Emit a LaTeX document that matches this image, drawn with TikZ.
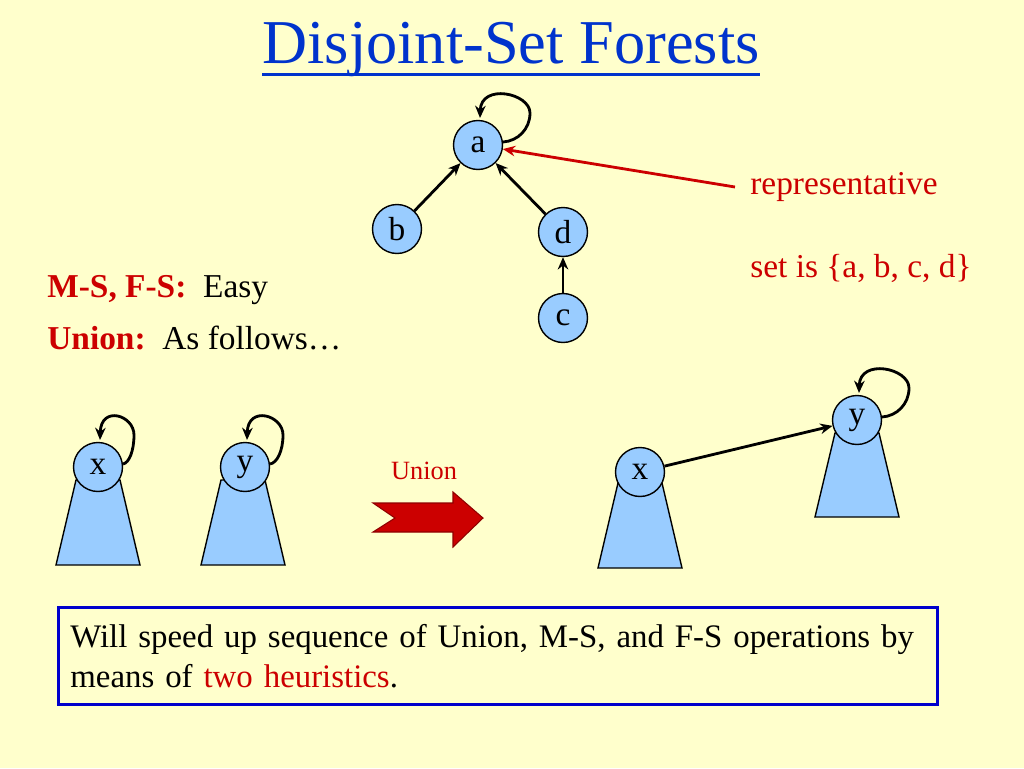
\documentclass[tikz,border=0pt]{standalone}
\usepackage{fontspec}
\setmainfont{Liberation Serif}
\usetikzlibrary{arrows.meta}
\definecolor{slidebg}{HTML}{FFFFCC}
\definecolor{nodeblue}{HTML}{99CCFF}
\definecolor{textred}{HTML}{CC0000}
\definecolor{titleblue}{HTML}{0033CC}
\definecolor{boxblue}{HTML}{0000CC}
\tikzset{
  elem/.style={circle, draw, fill=nodeblue, line width=0.8pt, minimum size=0.98cm, inner sep=0pt,
    font=\fontsize{19}{21}\selectfont},
  arr/.style={line width=1.6pt, -{Stealth[length=7pt,width=6pt]}},
  body/.style={inner sep=0pt, font=\fontsize{19}{21}\selectfont},
}
\begin{document}
\begin{tikzpicture}[x=0.02cm, y=-0.02cm]
    \fill[slidebg] (0,0) rectangle (1024,768);
    \useasboundingbox (0,0) rectangle (1024,768);
    % title
    \node (title) [anchor=base, inner sep=0pt, text=titleblue, font=\fontsize{35.5}{40}\selectfont] at (511,63) {Disjoint-Set Forests};
    \draw[titleblue, line width=1.7pt] ([yshift=-0.23cm]title.base west) -- ([yshift=-0.23cm]title.base east);
    % the tree of {a, b, c, d}
    \node (a) [elem] at (478,145) {a};
    \node (b) [elem] at (397,229) {b};
    \node (d) [elem] at (563,232) {d};
    \node (c) [elem] at (563,318) {c};
    \draw[arr] (b) -- (a);
    \draw[arr] (d) -- (a);
    \draw[arr] (c) -- (d);
    \node (rep) [body, anchor=west, text=textred] at (750,187) {representative};
    \node (setis) [body, anchor=west, text=textred] at (750,268) {set is \{a, b, c, d\}};
    \draw[textred, line width=1.6pt, -{Stealth[length=7pt,width=6pt]}] ([xshift=-0.3cm]rep.west) -- (a);
    % text
    \node (ms) [body, anchor=base west] at (47,297) {\textcolor{textred}{\textbf{M-S, F-S:}}\ \ Easy};
    \node (un) [body, anchor=base west] at (47,349) {\textcolor{textred}{\textbf{Union:}}\ \ As follows\dots};
    % subtrees
    \foreach \cx/\ty/\by in {98/480/565, 243/480/565, 640/483/568, 857/433/517}
        \filldraw[fill=nodeblue, line width=0.8pt] ({\cx-22},\ty) -- ({\cx+22},\ty) -- ({\cx+42},\by) -- ({\cx-42},\by) -- cycle;
    \node (x1) [elem] at (98,467) {x};
    \node (y1) [elem] at (245,467) {y};
    \node (x2) [elem] at (640,472) {x};
    \node (y2) [elem] at (857,420) {y};
    \draw[arr] (x2) -- (y2);
    % self loops
    \foreach \n/\w/\s in {a/52/40, y2/52/40, x1/36/31, y1/38/32}
        \draw[arr] ([shift={(25,-3)}]\n.center) .. controls ([shift={(\s,-4)}]\n.center) and ([shift={(\w,-16)}]\n.center) .. ([shift={(\w,-32)}]\n.center)
            .. controls ([shift={(\w,-52)}]\n.center) and ([shift={(3,-62)}]\n.center) .. ([shift={(2,-27)}]\n.center);
    % union arrow
    \node (unionlabel) [inner sep=0pt, text=textred, font=\fontsize{15}{17}\selectfont] at (424,471) {Union};
    \filldraw[fill=textred, draw=textred!70!black, line width=0.6pt]
        (373,503) -- (453,503) -- (453,492) -- (483,518) -- (453,547) -- (453,532) -- (373,532) -- (395,518) -- cycle;
    % note
    \node (note) [draw=boxblue, line width=1.6pt, anchor=north west, minimum width=17.58cm, minimum height=1.94cm,
        text width=17.1cm, inner xsep=0.22cm, align=left, font=\fontsize{18.7}{22.6}\selectfont] at (57,606)
        {Will speed up sequence of Union, M-S, and F-S operations by\\means of \textcolor{textred}{two heuristics}.};
\end{tikzpicture}
\end{document}
